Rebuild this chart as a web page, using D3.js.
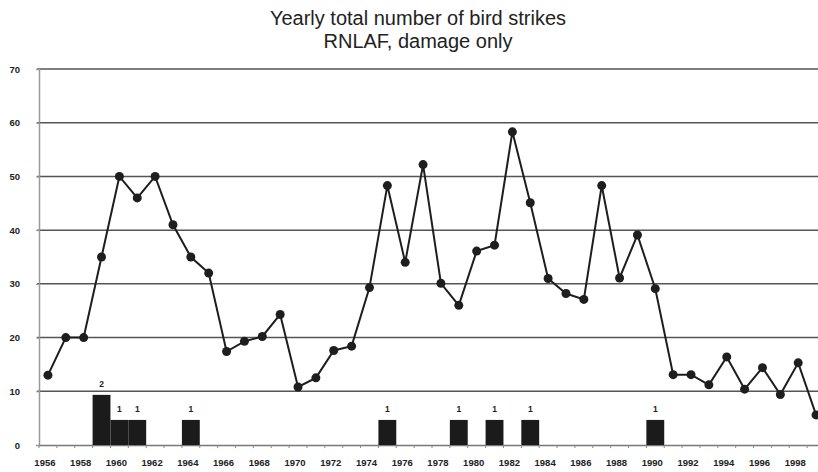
<!DOCTYPE html>
<html>
<head>
<meta charset="utf-8">
<script src="https://cdnjs.cloudflare.com/ajax/libs/d3/7.8.5/d3.min.js"></script>
<style>
  html, body { margin: 0; padding: 0; background: #fff; }
  svg { display: block; font-family: "Liberation Sans", Arial, sans-serif; }
</style>
</head>
<body>
<div id="chart-wrap"></div>
<script>
// Data
const years = d3.range(1956, 2000);
const strikes = [13, 20, 20, 35, 50, 46, 50, 41, 35, 32,
  17.4, 19.3, 20.2, 24.3, 10.8, 12.5, 17.6, 18.4, 29.3, 48.3,
  34, 52.2, 30.1, 26, 36.1, 37.2, 58.3, 45.1, 31, 28.2,
  27.1, 48.3, 31.1, 39.1, 29.1, 13.1, 13.1, 11.2, 16.4, 10.4,
  14.4, 9.4, 15.3, 5.6];
const crashYears = [1959, 1960, 1961, 1964, 1975, 1979, 1981, 1983, 1990];
const crashCounts = [2, 1, 1, 1, 1, 1, 1, 1, 1];
const yTicks = [0, 10, 20, 30, 40, 50, 60, 70];
const yearLabels = d3.range(1956, 2000, 2);
const titleLines = ['Yearly total number of bird strikes', 'RNLAF, damage only'];

const width = 818;
const height = 472;
const margin = { top: 69, right: -7, bottom: 27, left: 39 };

const svg = d3.select('#chart-wrap').append('svg')
  .attr('width', width)
  .attr('height', height);

const x = d3.scaleBand()
  .domain(years)
  .range([margin.left, width - margin.right])
  .padding(0);

const y = d3.scaleLinear()
  .domain([0, 70])
  .range([height - margin.bottom, margin.top]);

// bars sit on their own (hidden) scale
const yBar = d3.scaleLinear()
  .domain([0, 15])
  .range([height - margin.bottom, margin.top]);

const cx = (d) => x(d) + x.bandwidth() / 2;

// Title
svg.selectAll('.title')
  .data(titleLines)
  .enter()
  .append('text')
  .attr('class', 'title')
  .attr('x', 418)
  .attr('y', (d, i) => 25 + i * 23)
  .attr('text-anchor', 'middle')
  .style('font-size', '20px')
  .style('fill', '#222')
  .text(d => d);

// Gridlines
svg.append('g')
  .selectAll('line')
  .data(yTicks.filter(d => d > 0))
  .enter()
  .append('line')
  .attr('x1', margin.left - 2)
  .attr('x2', width)
  .attr('y1', d => y(d))
  .attr('y2', d => y(d))
  .attr('stroke', '#555')
  .attr('stroke-width', 1.5);

// Y axis
const yAxis = svg.append('g')
  .attr('transform', `translate(${margin.left},0)`)
  .call(d3.axisLeft(y).tickValues(yTicks).tickSize(3).tickPadding(16));
yAxis.select('.domain').attr('stroke', '#999').attr('stroke-width', 1.5);
yAxis.selectAll('.tick line').attr('stroke', '#999');
yAxis.selectAll('text')
  .style('font-size', '9.5px')
  .style('font-weight', 'bold')
  .style('fill', '#222');

// X axis
const xAxis = svg.append('g')
  .attr('transform', `translate(0,${y(0)})`)
  .call(d3.axisBottom(x).tickValues(yearLabels).tickSize(0).tickPadding(14));
xAxis.select('.domain').attr('stroke', '#777').attr('stroke-width', 1.5);
xAxis.selectAll('text')
  .attr('dx', -3)
  .style('font-size', '9.5px')
  .style('font-weight', 'bold')
  .style('fill', '#222');

// minor ticks between years
svg.append('g')
  .selectAll('line')
  .data(years)
  .enter()
  .append('line')
  .attr('x1', d => x(d))
  .attr('x2', d => x(d))
  .attr('y1', y(0))
  .attr('y2', y(0) + 3)
  .attr('stroke', '#888');

// Bars
svg.append('g')
  .selectAll('rect')
  .data(crashYears)
  .enter()
  .append('rect')
  .attr('x', d => x(d))
  .attr('width', x.bandwidth())
  .attr('y', (d, i) => yBar(crashCounts[i]))
  .attr('height', (d, i) => yBar(0) - yBar(crashCounts[i]))
  .attr('fill', '#1b1b1b');

svg.append('g')
  .selectAll('text')
  .data(crashYears)
  .enter()
  .append('text')
  .attr('x', d => cx(d))
  .attr('y', (d, i) => yBar(crashCounts[i]) - 8)
  .attr('text-anchor', 'middle')
  .style('font-size', '8.5px')
  .style('font-weight', 'bold')
  .style('fill', '#222')
  .text((d, i) => crashCounts[i]);

// Line
const line = d3.line()
  .x((d, i) => cx(years[i]))
  .y(d => y(d));

svg.append('path')
  .datum(strikes)
  .attr('d', line)
  .attr('fill', 'none')
  .attr('stroke', '#1e1e1e')
  .attr('stroke-width', 2);

svg.append('g')
  .selectAll('circle')
  .data(strikes)
  .enter()
  .append('circle')
  .attr('cx', (d, i) => cx(years[i]))
  .attr('cy', d => y(d))
  .attr('r', 4.5)
  .attr('fill', '#1e1e1e');
</script>
</body>
</html>
